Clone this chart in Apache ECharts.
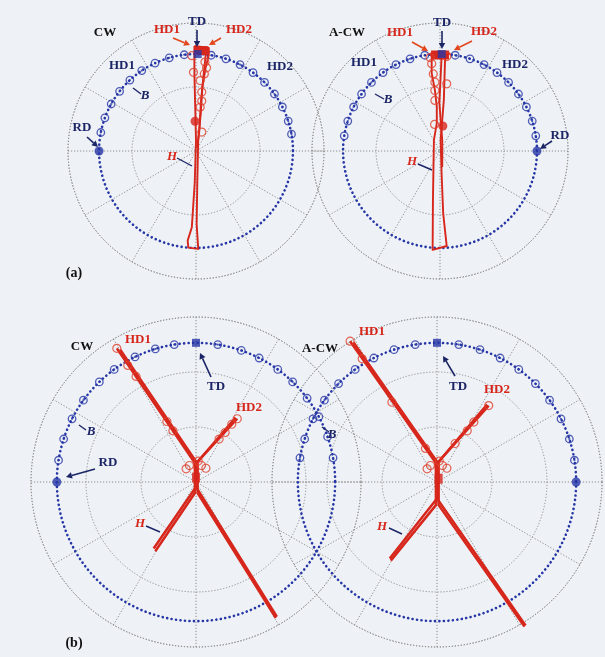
<!DOCTYPE html>
<html><head><meta charset="utf-8">
<script src="https://cdn.jsdelivr.net/npm/echarts/dist/echarts.min.js"></script>
<style>html,body{margin:0;padding:0;background:#eef1f5;}#c{width:605px;height:657px;}</style>
</head><body><div id="c"></div><script>
// ---------- DATA ----------
// radial scale of each panel (units) and radius of the B trajectory
const axisMaxA = 4, ringStepA = 2, bRadiusA = 3.03;
const axisMaxB = 3, ringStepB = 1, bRadiusB = 2.53;
// angles (deg, counter-clockwise from +x) of the open B markers
const bAnglesA_CW  = [169,160,151,142,133,124,115,106,97,81,72,63,54,45,36,27,18,10];
const bAnglesA_ACW = [171,162,153,144,135,126,117,108,99,81,72,63,54,45,36,27,18,9];
const bAnglesB_CW  = [171,162,153,144,134,126,116,107,99,81,71,63,54,46,37,28,19,10];
const bAnglesB_ACW = [170,162,153,144,135,126,117,108,99,81,72,63,54,45,36,27,18,9];
const rdAngles = [180, 0, 180, 0];
const tdAngles = [89, 89, 90, 90];
// H trajectories (x, y in axis units)
const hOuterA_CW = [[-0.05,3.28],[-0.05,2.4],[-0.02,1.2],[0,0.33],[-0.04,-1.0],[-0.13,-2.38],[-0.26,-2.8],[-0.24,-3.02],[0.07,-3.06],[0.02,-2.28],[0.04,-1.0],[0.07,0.33],[0.15,1.2],[0.2,2.0],[0.3,2.6],[0.4,3.0],[0.4,3.22],[-0.05,3.28]];
const hInnerA_CW = [[0.32,3.15],[0.25,2.5],[0.16,1.6],[0.1,0.6],[0.03,0.1]];
const hBlobA_CW = [[-0.04,3.15],[0.38,3.13]];
const hOpenA_CW = [[0.28,2.78],[0.33,2.6],[0.26,2.41],[0.13,2.2],[0.18,1.84],[0.18,1.56],[0.13,1.37],[0.18,0.59],[-0.13,2.98],[-0.08,2.46]];
const hFilledA_CW = [[-0.03,0.93]];

const hOuterA_ACW = [[-0.3,3.05],[-0.26,2.95],[-0.26,2.43],[-0.16,1.91],[-0.10,1.38],[-0.10,0.87],[-0.19,0.34],[-0.22,-1.5],[-0.23,-2.99],[-0.23,-3.09],[0.21,-2.97],[0.10,-1.96],[0.05,-0.71],[0.02,0.34],[0.12,1.6],[0.16,2.95],[0.3,3.05],[-0.3,3.05]];
const hInnerA_ACW = [[0.05,2.95],[-0.02,1.5],[0.07,0.34],[0.07,-0.5]];
const hBlobA_ACW = [[-0.28,3.0],[0.28,3.0]];
const hOpenA_ACW = [[-0.31,2.92],[-0.26,2.73],[-0.21,2.41],[-0.16,2.15],[-0.16,1.89],[-0.16,1.58],[-0.17,0.83],[0.21,2.95],[0.21,2.1]];
const hFilledA_ACW = [[0.09,0.78]];

const hLineA1_BCW = [[-1.44,2.43],[-0.03,0.36],[0,0.1],[0,-0.09],[1.47,-2.45]];
const hLineA2_BCW = [[-1.38,2.41],[0.03,0.33],[0.03,-0.2],[1.45,-2.47]];
const hLineB1_BCW = [[0.75,1.15],[0.03,0.37],[0,0.1],[0,-0.09],[-0.77,-1.21]];
const hLineB2_BCW = [[0.72,1.17],[-0.02,0.31],[-0.02,-0.2],[-0.74,-1.26]];
const hOpenB_CW = [[-1.44,2.43],[-1.24,2.12],[-1.09,1.92],[-0.53,1.1],[-0.42,0.93],[0.75,1.15],[0.65,1.05],[0.53,0.9],[0.42,0.78],[-0.12,0.3],[0.1,0.3],[0.18,0.25],[-0.18,0.24],[0.04,0.38]];
const hFilledB_CW = [[0,0.08]];

const hLineA1_BACW = [[-1.58,2.56],[-0.03,0.36],[0,0.1],[0,-0.3],[1.61,-2.61]];
const hLineA2_BACW = [[-1.52,2.54],[0.03,0.33],[0.03,-0.42],[1.59,-2.63]];
const hLineB1_BACW = [[0.94,1.39],[0.03,0.37],[0,0.1],[0,-0.3],[-0.86,-1.39]];
const hLineB2_BACW = [[0.91,1.41],[-0.02,0.31],[-0.02,-0.42],[-0.84,-1.43]];
const hOpenB_ACW = [[-1.58,2.56],[-1.36,2.24],[-0.82,1.45],[-0.21,0.61],[0.94,1.39],[0.67,1.09],[0.55,0.93],[0.33,0.7],[-0.12,0.3],[0.1,0.3],[0.18,0.25],[-0.18,0.24],[0.04,0.38]];
const hFilledB_ACW = [[0.03,0.06]];

// ---------- STYLE / LAYOUT ----------
const GRID = '#8e8e8e', BLUE = '#2536a6', NAVY = '#1b2566', RED = '#d7261b', ORANGE = '#e2461c';
const panels = [
  {cx:196, cy:151, R:128, max:axisMaxA, step:ringStepA, bR:bRadiusA, bAngles:bAnglesA_CW, lines:[hOuterA_CW,hInnerA_CW], blob:hBlobA_CW, open:hOpenA_CW, filled:hFilledA_CW, lw:1.9, filledSym:'circle', filledSize:9},
  {cx:440, cy:151, R:128, max:axisMaxA, step:ringStepA, bR:bRadiusA, bAngles:bAnglesA_ACW, lines:[hOuterA_ACW,hInnerA_ACW], blob:hBlobA_ACW, open:hOpenA_ACW, filled:hFilledA_ACW, lw:1.9, filledSym:'circle', filledSize:9},
  {cx:196, cy:482, R:165, max:axisMaxB, step:ringStepB, bR:bRadiusB, bAngles:bAnglesB_CW, lines:[hLineA1_BCW,hLineA2_BCW,hLineB1_BCW,hLineB2_BCW], blob:null, open:hOpenB_CW, filled:hFilledB_CW, lw:2.5, filledSym:'rect', filledSize:[8,10]},
  {cx:437, cy:482, R:165, max:axisMaxB, step:ringStepB, bR:bRadiusB, bAngles:bAnglesB_ACW, lines:[hLineA1_BACW,hLineA2_BACW,hLineB1_BACW,hLineB2_BACW], blob:null, open:hOpenB_ACW, filled:hFilledB_ACW, lw:2.5, filledSym:'rect', filledSize:[8,10]}
];

const polar=[], angleAxis=[], radiusAxis=[], grid=[], xAxis=[], yAxis=[], series=[];
const dotted = {color:GRID, width:1, type:[1.2,1.8]};
panels.forEach((p,i)=>{
  const pm = polar.length;
  polar.push({center:[p.cx,p.cy], radius:p.R});
  angleAxis.push({polarIndex:pm, type:'value', min:0, max:360, interval:30, startAngle:0, clockwise:false,
    axisLine:{show:true, lineStyle:dotted}, axisTick:{show:false}, axisLabel:{show:false},
    splitLine:{show:true, lineStyle:dotted}, splitArea:{show:false}});
  radiusAxis.push({polarIndex:pm, type:'value', min:0, max:p.max, interval:p.step,
    axisLine:{show:false}, axisTick:{show:false}, axisLabel:{show:false},
    splitLine:{show:true, lineStyle:dotted}, splitArea:{show:false}});
  const pb = polar.length;
  polar.push({center:[p.cx,p.cy], radius:p.R*p.bR/p.max});
  angleAxis.push({polarIndex:pb, type:'value', min:0, max:360, startAngle:0, clockwise:false,
    axisLine:{show:true, lineStyle:{color:BLUE, width:2.6, type:[0.1,4.4], cap:'round'}},
    axisTick:{show:false}, axisLabel:{show:false}, splitLine:{show:false}, splitArea:{show:false}});
  radiusAxis.push({polarIndex:pb, type:'value', min:0, max:1, show:false});
  grid.push({left:p.cx-p.R, top:p.cy-p.R, width:2*p.R, height:2*p.R});
  xAxis.push({gridIndex:i, type:'value', min:-p.max, max:p.max, show:false});
  yAxis.push({gridIndex:i, type:'value', min:-p.max, max:p.max, show:false});

  // B markers
  series.push({type:'scatter', coordinateSystem:'polar', polarIndex:pm, z:3, silent:true,
    data:p.bAngles.map(a=>[p.bR,a]), symbol:'circle', symbolSize:7.5,
    itemStyle:{color:'rgba(0,0,0,0)', borderColor:BLUE, borderWidth:1.3}});
  series.push({type:'scatter', coordinateSystem:'polar', polarIndex:pm, z:3, silent:true,
    data:p.bAngles.map(a=>[p.bR,a]), symbol:'circle', symbolSize:2.2, itemStyle:{color:BLUE}});
  // H trajectory
  p.lines.forEach(l=>series.push({type:'line', xAxisIndex:i, yAxisIndex:i, data:l, showSymbol:false, symbol:'none',
    z:4, silent:true, lineStyle:{color:RED, width:p.lw, join:'round'}, clip:false}));
  if (p.blob) series.push({type:'line', xAxisIndex:i, yAxisIndex:i, data:p.blob, showSymbol:false, symbol:'none',
    z:4, silent:true, lineStyle:{color:RED, width:9}});
  series.push({type:'scatter', xAxisIndex:i, yAxisIndex:i, data:p.open, z:5, silent:true, symbol:'circle', symbolSize:8,
    itemStyle:{color:'rgba(0,0,0,0)', borderColor:'#e0402c', borderWidth:1.2}});
  series.push({type:'scatter', xAxisIndex:i, yAxisIndex:i, data:p.filled, z:5, silent:true, symbol:p.filledSym, symbolSize:p.filledSize,
    itemStyle:{color:RED}});
  // RD and TD
  series.push({type:'scatter', coordinateSystem:'polar', polarIndex:pm, z:6, silent:true,
    data:[[p.bR, rdAngles[i]]], symbol:'circle', symbolSize:9, itemStyle:{color:BLUE}});
  series.push({type:'scatter', coordinateSystem:'polar', polarIndex:pm, z:6, silent:true,
    data:[[p.bR, tdAngles[i]]], symbol:'rect', symbolSize:8, itemStyle:{color:BLUE}});
});

// ---------- ANNOTATIONS ----------
const serif = '"Liberation Serif","DejaVu Serif",serif';
function txt(t,x,y,fill,opts={}){
  return {type:'text', x, y, z:100, silent:true, style:{text:t, fill, align:'center', verticalAlign:'middle',
    font:(opts.italic?'italic ':'')+'bold '+(opts.size||13)+'px '+serif}};
}
function ln(x1,y1,x2,y2,color,w){
  return {type:'line', z:100, silent:true, shape:{x1,y1,x2,y2}, style:{stroke:color, lineWidth:w||1.4}};
}
function arrow(x1,y1,x2,y2,color){
  const a=Math.atan2(y2-y1,x2-x1), hl=6, hw=3.2;
  const bx=x2-hl*Math.cos(a), by=y2-hl*Math.sin(a);
  return [ln(x1,y1,bx,by,color,1.6),
    {type:'polygon', z:100, silent:true, shape:{points:[[x2,y2],[bx+hw*Math.sin(a),by-hw*Math.cos(a)],[bx-hw*Math.sin(a),by+hw*Math.cos(a)]]}, style:{fill:color}}];
}
const graphic = [
  // (a) CW
  txt('CW',105,33,'#111'), txt('HD1',122,66,NAVY), txt('HD2',280,67,NAVY),
  txt('RD',82,128,NAVY), ...arrow(87,137,98,147,NAVY),
  txt('B',145,96,NAVY,{italic:true}), ln(133,88,141,94,NAVY),
  txt('TD',197,22,NAVY), ...arrow(197,30,197,47,NAVY),
  txt('HD1',167,30,RED), ...arrow(173,38,190,45,ORANGE),
  txt('HD2',239,30,RED), ...arrow(221,38,209,45,ORANGE),
  txt('H',172,157,RED,{italic:true}), ln(177,158,192,166,NAVY),
  // (a) A-CW
  txt('A-CW',347,33,'#111'), txt('HD1',364,63,NAVY), txt('HD2',515,65,NAVY),
  txt('RD',560,136,NAVY), ...arrow(552,141,540,149,NAVY),
  txt('B',388,100,NAVY,{italic:true}), ln(375,94,384,99,NAVY),
  txt('TD',442,23,NAVY), ...arrow(442,31,442,49,NAVY),
  txt('HD1',400,33,RED), ...arrow(412,42,428,51,ORANGE),
  txt('HD2',484,32,RED), ...arrow(472,41,454,50,ORANGE),
  txt('H',412,162,RED,{italic:true}), ln(418,164,432,170,NAVY),
  // (b) CW
  txt('CW',82,347,'#111'), txt('HD1',138,340,RED),
  txt('TD',216,387,NAVY), ...arrow(211,377,200,353,NAVY),
  txt('HD2',249,408,RED),
  txt('B',91,432,NAVY,{italic:true}), ln(79,425,86,430,NAVY),
  txt('RD',108,463,NAVY), ...arrow(95,469,66,477,NAVY),
  txt('H',140,524,RED,{italic:true}), ln(146,526,160,532,NAVY),
  // (b) A-CW
  txt('A-CW',320,349,'#111'), txt('HD1',372,332,RED),
  txt('TD',458,387,NAVY), ...arrow(455,376,443,356,NAVY),
  txt('HD2',497,390,RED),
  txt('B',332,435,NAVY,{italic:true}), ln(322,427,329,432,NAVY),
  txt('H',382,527,RED,{italic:true}), ln(389,528,402,534,NAVY),
  // panel tags
  txt('(a)',74,273,'#111',{size:14}), txt('(b)',74,643,'#111',{size:14})
];

const chart = echarts.init(document.getElementById('c'), null, {renderer:'canvas'});
chart.setOption({backgroundColor:'#eef1f5', animation:false, polar, angleAxis, radiusAxis, grid, xAxis, yAxis, series, graphic});
</script></body></html>
